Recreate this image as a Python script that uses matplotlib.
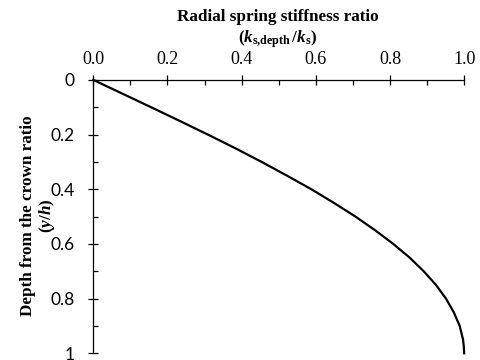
import matplotlib
matplotlib.use('Agg')
import matplotlib.pyplot as plt
from matplotlib.ticker import MultipleLocator

# values
depth_ratio = [0.0, 0.05, 0.10, 0.15, 0.20, 0.25, 0.30, 0.35, 0.40, 0.45, 0.50,
               0.55, 0.60, 0.65, 0.70, 0.75, 0.80, 0.85, 0.90, 0.95, 0.975, 1.0]
stiffness_ratio = [0.0, 0.078, 0.156, 0.233, 0.309, 0.383, 0.454, 0.522, 0.588,
                   0.649, 0.707, 0.760, 0.809, 0.853, 0.891, 0.924, 0.951, 0.972,
                   0.988, 0.997, 0.999, 1.0]

x_ticks = [0.0, 0.2, 0.4, 0.6, 0.8, 1.0]
x_ticklabels = ['0.0', '0.2', '0.4', '0.6', '0.8', '1.0']
y_ticks = [0.0, 0.2, 0.4, 0.6, 0.8, 1.0]
y_ticklabels = ['0', '0.2', '0.4', '0.6', '0.8', '1']

plt.rcParams['mathtext.fontset'] = 'custom'
plt.rcParams['mathtext.rm'] = 'Liberation Serif:bold'
plt.rcParams['mathtext.bf'] = 'Liberation Serif:bold'
plt.rcParams['mathtext.it'] = 'Liberation Serif:italic:bold'

fig = plt.figure(figsize=(4.81, 3.6), dpi=100)
ax = fig.add_axes([0.194, 0.0186, 0.771, 0.7594])

ax.plot(stiffness_ratio, depth_ratio, color='black', lw=1.6, clip_on=False)

ax.set_xlim(0, 1)
ax.set_ylim(1, 0)
ax.spines['right'].set_visible(False)
ax.spines['bottom'].set_visible(False)
ax.spines['top'].set_linewidth(0.9)
ax.spines['left'].set_linewidth(0.9)
ax.xaxis.tick_top()

ax.set_xticks(x_ticks)
ax.set_xticklabels(x_ticklabels, family='Liberation Serif', fontsize=13)
ax.set_yticks(y_ticks)
ax.set_yticklabels(y_ticklabels, family='Lato', fontsize=12.5)
ax.xaxis.set_minor_locator(MultipleLocator(0.1))
ax.yaxis.set_minor_locator(MultipleLocator(0.1))
ax.tick_params(which='major', direction='inout', length=7, width=0.9, color='black')
ax.tick_params(which='minor', direction='in', length=3.5, width=0.9, color='black')
ax.tick_params(axis='x', which='major', pad=5)
ax.tick_params(axis='y', which='major', pad=10)

fig.text(0.577, 0.953, 'Radial spring stiffness ratio', ha='center', va='center',
         family='Liberation Serif', weight='bold', fontsize=12.3)
fig.text(0.577, 0.890, r'$(k_{\rm s{,}depth}\,/k_{\rm s})$', ha='center', va='center',
         fontsize=12.3)
fig.text(0.058, 0.40, 'Depth from the crown ratio', ha='center', va='center',
         rotation=90, family='Liberation Serif', weight='bold', fontsize=12.3)
fig.text(0.098, 0.40, r'$(y/h)$', ha='center', va='center', rotation=90,
         fontsize=12.3)

fig.savefig('out.png', dpi=100)
